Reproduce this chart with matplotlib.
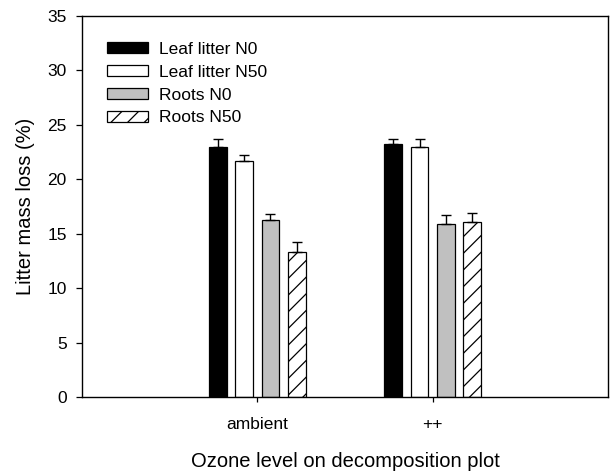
import matplotlib
matplotlib.use("Agg")
import matplotlib.pyplot as plt
import numpy as np

plt.rcParams["font.family"] = ["Liberation Sans", "DejaVu Sans"]
plt.rcParams["font.size"] = 12.5
plt.rcParams["hatch.linewidth"] = 0.9

groups = ["ambient", "++"]
series = ["Leaf litter N0", "Leaf litter N50", "Roots N0", "Roots N50"]
leaf_n0 = [23.0, 23.2]
leaf_n0_err = [0.7, 0.5]
leaf_n50 = [21.7, 23.0]
leaf_n50_err = [0.5, 0.7]
roots_n0 = [16.3, 15.9]
roots_n0_err = [0.5, 0.8]
roots_n50 = [13.3, 16.1]
roots_n50_err = [0.9, 0.8]

values = [leaf_n0, leaf_n50, roots_n0, roots_n50]
errors = [leaf_n0_err, leaf_n50_err, roots_n0_err, roots_n50_err]
faces = ["black", "white", "#c0c0c0", "white"]
hatches = [None, None, None, "//"]

fig = plt.figure(figsize=(6.1, 4.74), dpi=100)
ax = fig.add_axes([0.1344, 0.1624, 0.8623, 0.8038])

x = np.arange(1, len(groups) + 1)
width = 0.1
step = 0.15
for i, (vals, errs) in enumerate(zip(values, errors)):
    pos = x + (i - 1.5) * step
    ax.bar(pos, vals, width, color=faces[i], edgecolor="black", linewidth=0.9,
           hatch=hatches[i], label=series[i], zorder=2)
    ax.errorbar(pos, vals, yerr=[np.zeros(len(errs)), errs], fmt="none",
                ecolor="black", elinewidth=1, capsize=3.8, capthick=1, zorder=3)

ax.set_xlim(0, 3)
ax.set_ylim(0, 35)
ax.set_yticks(range(0, 36, 5))
ax.set_xticks(x)
ax.set_xticklabels(groups)
ax.tick_params(axis="y", direction="out", length=4, width=0.9, pad=7)
ax.tick_params(axis="x", direction="out", length=3.5, width=0.9, pad=11)
for s in ax.spines.values():
    s.set_linewidth(1.0)

ax.set_xlabel("Ozone level on decomposition plot", fontsize=14.5, labelpad=14)
ax.set_ylabel("Litter mass loss (%)", fontsize=14.5, labelpad=9)

ax.legend(loc="upper left", bbox_to_anchor=(0.035, 0.95), frameon=False,
          handlelength=2.35, handleheight=0.6, handletextpad=0.6,
          labelspacing=0.45, borderaxespad=0)

fig.savefig("out.png", dpi=100)
